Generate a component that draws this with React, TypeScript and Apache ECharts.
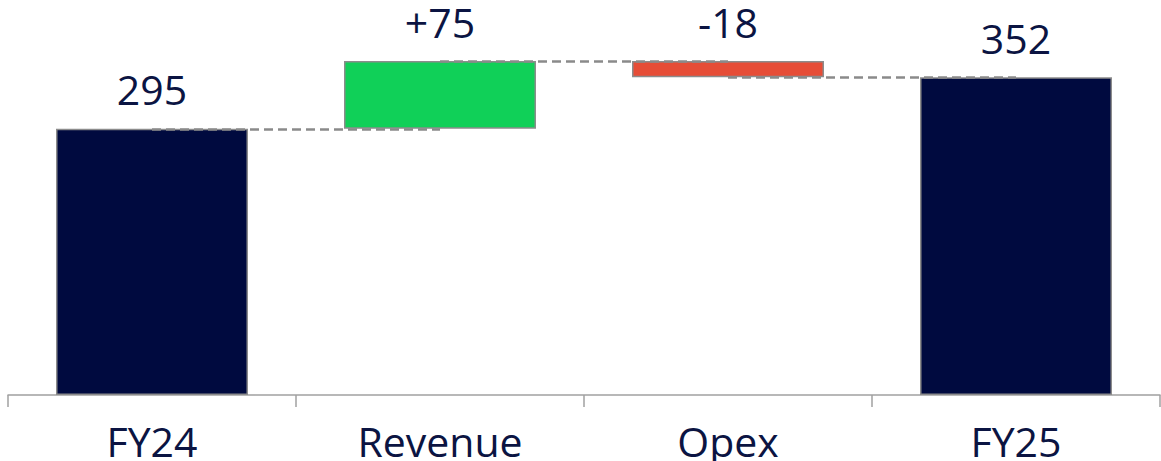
import React, { useEffect, useRef } from "react";
import * as echarts from "echarts";

const categories = ["FY24", "Revenue", "Opex", "FY25"];
const baseValues = [0, 295, 352, 0];
const barValues = [295, 75, 18, 352];
const barLabels = ["295", "+75", "-18", "352"];
const barColors = ["#000a3f", "#10d058", "#e64d37", "#000a3f"];
const connectors: [string, string, number][] = [
  ["FY24", "Revenue", 295],
  ["Revenue", "Opex", 370],
  ["Opex", "FY25", 352],
];

const FONT = "'Open Sans', 'Noto Sans', sans-serif";
const TEXT = "#0b1442";

export default function App() {
  const ref = useRef<HTMLDivElement>(null);
  useEffect(() => {
    document.body.style.margin = "0";
    const chart = echarts.init(ref.current!, undefined, { renderer: "svg" });
    chart.setOption({
      animation: false,
      grid: { left: 8, right: 1, top: 34, bottom: 65 },
      xAxis: {
        type: "category",
        data: categories,
        axisLine: { lineStyle: { color: "#a0a0a0", width: 1.5 } },
        axisTick: { show: true, length: 12, lineStyle: { color: "#a0a0a0", width: 1.5 } },
        axisLabel: { fontSize: 41, fontFamily: FONT, color: TEXT, margin: 25 },
      },
      yAxis: {
        type: "value",
        min: 0,
        max: 400,
        show: false,
        splitLine: { show: false },
      },
      series: [
        {
          type: "bar",
          stack: "w",
          data: baseValues,
          barWidth: 192,
          itemStyle: { color: "transparent" },
          silent: true,
        },
        {
          type: "bar",
          stack: "w",
          barWidth: 192,
          data: barValues.map((v, i) => ({
            value: v,
            itemStyle: { color: barColors[i] },
            label: { formatter: barLabels[i] },
          })),
          itemStyle: { borderColor: "#8c8c8c", borderWidth: 1.5 },
          label: {
            show: true,
            position: "top",
            distance: 19,
            fontSize: 41,
            fontFamily: FONT,
            color: TEXT,
          },
          markLine: {
            symbol: "none",
            silent: true,
            label: { show: false },
            lineStyle: { color: "#8a8a8a", type: [9, 5], width: 2.5 },
            data: connectors.map(([a, b, v]) => [
              { coord: [a, v] },
              { coord: [b, v] },
            ]),
          },
        },
      ],
    });
    return () => chart.dispose();
  }, []);
  return <div ref={ref} style={{ width: 1161, height: 461 }} />;
}
